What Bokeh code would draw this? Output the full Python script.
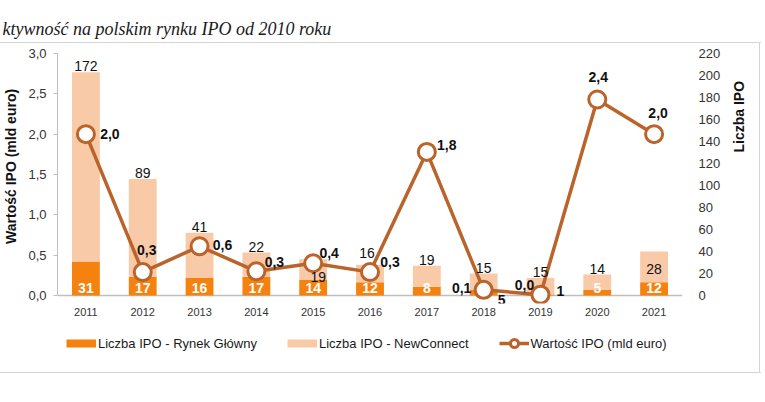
from math import pi
from bokeh.plotting import figure
from bokeh.layouts import column
from bokeh.core.properties import value
from bokeh.models import (Range1d, LinearAxis, FixedTicker, CustomJSTickFormatter, Span,
                          ColumnDataSource, LabelSet, Legend, LegendItem)
from bokeh.embed import file_html
from bokeh.resources import INLINE

# ---- data ----
years = ["2011", "2012", "2013", "2014", "2015", "2016", "2017", "2018", "2019", "2020", "2021"]
ipo_main = [31, 17, 16, 17, 14, 12, 8, 5, 1, 5, 12]             # Liczba IPO - Rynek Główny
ipo_newconnect = [172, 89, 41, 22, 19, 16, 19, 15, 15, 14, 28]  # Liczba IPO - NewConnect
ipo_value = [2.0, 0.29, 0.61, 0.30, 0.40, 0.29, 1.78, 0.07, 0.01, 2.43, 2.0]  # Wartość IPO (mld euro)
value_ticks = [0, 0.5, 1.0, 1.5, 2.0, 2.5, 3.0]
count_ticks = list(range(0, 221, 20))

title_text = "ktywność na polskim rynku IPO od 2010 roku"
left_title = "Wartość IPO (mld euro)"
right_title = "Liczba IPO"
legend_labels = ["Liczba IPO - Rynek Główny", "Liczba IPO - NewConnect", "Wartość IPO (mld euro)"]

# ---- styles / layout ----
C_MAIN = "#F5820F"
C_NC = "#F9CAA7"
C_LINE = "#BA632B"
C_TXT = "#111111"
C_BOX = "#D4D4D4"
FONT = "Liberation Sans"
W = 765
PH, LH = 325, 77                    # chart height, legend strip height
FL, FR, FT, FB = 55, 682, 53, 303   # frame edges (px)
BASE_PAD = 8                        # px of frame below the zero line
VMAX, CMAX = 3.0, 220
px_per_val = (FB - BASE_PAD - FT) / VMAX
vmin = -BASE_PAD / px_per_val
cmin = vmin * CMAX / VMAX
LEFT_TITLE_AT = 1.6     # vertical centre of the left axis title (value units)
RIGHT_TITLE_AT = 130    # vertical centre of the right axis title (count units)

idx = list(range(len(years)))
p = figure(width=W, height=PH, output_backend="svg", toolbar_location=None,
           x_range=Range1d(-0.5, len(years) - 0.5), y_range=Range1d(vmin, VMAX),
           min_border_left=FL, min_border_right=W - FR, min_border_top=FT, min_border_bottom=PH - FB,
           x_axis_type=None, y_axis_type=None)
p.xgrid.visible = False
p.ygrid.visible = False
p.outline_line_color = None
p.border_fill_color = None
p.background_fill_color = None
p.extra_y_ranges = {"count": Range1d(cmin, CMAX)}

# title
p.title.text = title_text
p.title.align = "left"
p.title.offset = -FL
if "standoff" in p.title.properties():
    p.title.standoff = 30
p.title.text_font = "Liberation Serif"
p.title.text_font_style = "italic"
p.title.text_font_size = "18px"
p.title.text_color = "#1a1a1a"

def style_ticklabels(ax, size="13px"):
    ax.major_label_text_font = FONT
    ax.major_label_text_font_size = size
    ax.major_label_text_color = "#333333"
    ax.minor_tick_line_color = None

yl = LinearAxis(ticker=FixedTicker(ticks=value_ticks), bounds=(0, VMAX),
                formatter=CustomJSTickFormatter(code="return tick.toFixed(1).replace('.', ',')"))
yl.axis_line_color = "#BFBFBF"
yl.major_tick_line_color = "#BFBFBF"
yl.major_tick_out = 4
yl.major_tick_in = 0
yl.major_label_standoff = 7
style_ticklabels(yl)
p.add_layout(yl, "left")

# left axis title (a tick label read bottom-to-top)
yl2 = LinearAxis(ticker=FixedTicker(ticks=[LEFT_TITLE_AT]),
                 formatter=CustomJSTickFormatter(args=dict(t=left_title), code="return t"))
yl2.axis_line_color = None
yl2.major_tick_line_color = None
yl2.minor_tick_line_color = None
yl2.major_label_orientation = "vertical"
yl2.major_label_standoff = 0
yl2.major_label_text_font = FONT
yl2.major_label_text_font_style = "bold"
yl2.major_label_text_font_size = "14px"
yl2.major_label_text_color = C_TXT
p.add_layout(yl2, "left")

yr = LinearAxis(y_range_name="count", ticker=FixedTicker(ticks=count_ticks), bounds=(0, CMAX))
yr.axis_line_color = None
yr.major_tick_line_color = None
yr.major_label_standoff = 10
style_ticklabels(yr)
p.add_layout(yr, "right")

# right axis title (read bottom-to-top)
yr2 = LinearAxis(y_range_name="count", ticker=FixedTicker(ticks=[RIGHT_TITLE_AT]),
                 formatter=CustomJSTickFormatter(args=dict(t=right_title), code="return t"))
yr2.axis_line_color = None
yr2.major_tick_line_color = None
yr2.minor_tick_line_color = None
yr2.major_label_orientation = pi / 2
yr2.major_label_standoff = 9
yr2.major_label_text_font = FONT
yr2.major_label_text_font_style = "bold"
yr2.major_label_text_font_size = "14px"
yr2.major_label_text_color = C_TXT
p.add_layout(yr2, "right")

xa = LinearAxis(ticker=FixedTicker(ticks=idx),
                formatter=CustomJSTickFormatter(args=dict(years=years), code="return years[Math.round(tick)]"))
xa.axis_line_color = None
xa.major_tick_line_color = None
xa.major_label_standoff = -2
style_ticklabels(xa, "11px")
p.add_layout(xa, "below")

p.add_layout(Span(location=0, dimension="width", line_color="#BFBFBF", line_width=1.5, level="underlay"))

# bars
totals = [m + n for m, n in zip(ipo_main, ipo_newconnect)]
p.vbar(x=idx, bottom=0, top=ipo_main, width=0.49, color=C_MAIN, line_color=None, y_range_name="count")
p.vbar(x=idx, bottom=ipo_main, top=totals, width=0.49, color=C_NC, line_color=None, y_range_name="count")

# line
p.line(idx, ipo_value, line_color=C_LINE, line_width=3.5)
p.scatter(idx, ipo_value, size=17, fill_color="white", line_color=C_LINE, line_width=3)

# data labels
main_off = {"2018": (18, -4), "2019": (20, 5)}
main_src = ColumnDataSource(dict(
    x=idx, y=[0] * len(idx), t=[str(v) for v in ipo_main],
    dx=[main_off.get(y, (0, 8))[0] for y in years],
    dy=[main_off.get(y, (0, 8))[1] for y in years],
    c=[C_TXT if y in main_off else "white" for y in years]))
p.add_layout(LabelSet(x="x", y="y", text="t", x_offset="dx", y_offset="dy", source=main_src,
                      y_range_name="count", text_align="center", text_baseline="middle",
                      text_color="c", text_font=value(FONT), text_font_size="14px", text_font_style="bold"))

nc_off = {"2015": (5, -18), "2016": (-3, 12), "2021": (0, -17)}
nc_src = ColumnDataSource(dict(
    x=idx, y=totals, t=[str(v) for v in ipo_newconnect],
    dx=[nc_off.get(y, (0, 6))[0] for y in years],
    dy=[nc_off.get(y, (0, 6))[1] for y in years]))
p.add_layout(LabelSet(x="x", y="y", text="t", x_offset="dx", y_offset="dy", source=nc_src,
                      y_range_name="count", text_align="center", text_baseline="middle",
                      text_color=C_TXT, text_font=value(FONT), text_font_size="14px"))

val_off = [(24, 0), (4, 22), (23, 1), (18, 9), (16, 10), (20, 10), (20, 7), (-22, 2), (-16, 10), (1, 22), (4, 21)]
val_src = ColumnDataSource(dict(
    x=idx, y=ipo_value, t=[f"{v:.1f}".replace(".", ",") for v in ipo_value],
    dx=[o[0] for o in val_off], dy=[o[1] for o in val_off]))
p.add_layout(LabelSet(x="x", y="y", text="t", x_offset="dx", y_offset="dy", source=val_src,
                      text_align="center", text_baseline="middle",
                      text_color=C_TXT, text_font=value(FONT), text_font_size="14px", text_font_style="bold"))

# ---- legend strip (legend lives inside its own frame) ----
L = figure(width=W, height=LH, output_backend="svg", toolbar_location=None,
           x_range=Range1d(0, 1), y_range=Range1d(0, 1),
           min_border_left=FL, min_border_right=W - FR, min_border_top=0, min_border_bottom=0,
           x_axis_type=None, y_axis_type=None)
L.xgrid.visible = False
L.ygrid.visible = False
L.outline_line_color = None
L.border_fill_color = None
L.background_fill_color = None
L.title.visible = False
hidden = dict(x=[-5, -4], y=[-5, -5])
k_main = L.line(line_color=C_MAIN, line_width=8, **hidden)
k_nc = L.line(line_color=C_NC, line_width=8, **hidden)
k_line = L.line(line_color=C_LINE, line_width=3.5, **hidden)
k_pts = L.scatter(size=17, fill_color="white", line_color=C_LINE, line_width=3, **hidden)
legend = Legend(items=[LegendItem(label=legend_labels[0], renderers=[k_main]),
                       LegendItem(label=legend_labels[1], renderers=[k_nc]),
                       LegendItem(label=legend_labels[2], renderers=[k_line, k_pts])],
                orientation="horizontal", location=(9, 49),
                glyph_width=30, glyph_height=20, label_height=20, label_standoff=2, spacing=30,
                padding=0, margin=0, border_line_alpha=0, background_fill_alpha=0,
                label_text_font=FONT, label_text_font_size="13px", label_text_color="#1a1a1a")
L.add_layout(legend)

layout = column(p, L, spacing=0)
g = f"linear-gradient({C_BOX},{C_BOX})"
layout.styles = {"background-color": "white",
                 "background-image": f"{g}, {g}, {g}",
                 "background-size": "761px 1px, 1px 331px, 761px 1px",
                 "background-position": "0px 42px, 759px 42px, 0px 372px",
                 "background-repeat": "no-repeat"}

open("out.html", "w").write(file_html(layout, INLINE))
